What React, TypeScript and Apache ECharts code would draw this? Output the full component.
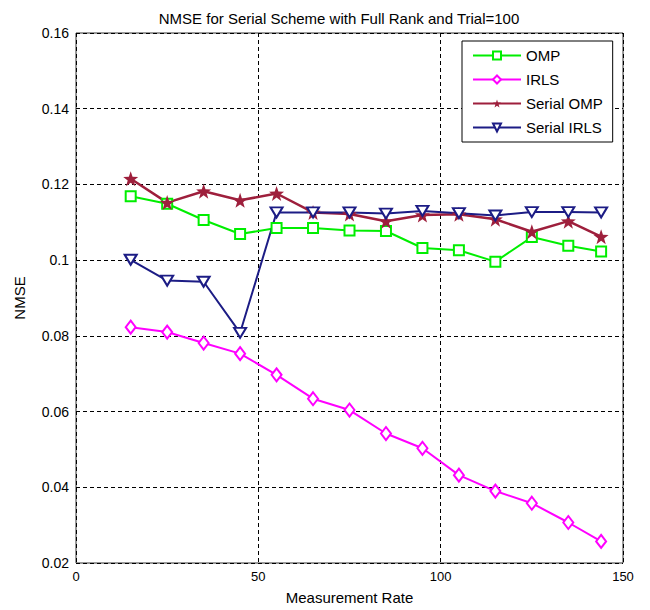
import React, { useEffect, useRef } from "react";
import * as echarts from "echarts";

const rates = [15, 25, 35, 45, 55, 65, 75, 85, 95, 105, 115, 125, 135, 144];
const ompValues = [0.1169, 0.1149, 0.1106, 0.1069, 0.1085, 0.1085, 0.1078, 0.1077, 0.1032, 0.1026, 0.0996, 0.1061, 0.1038, 0.1023];
const irlsValues = [0.0823, 0.081, 0.0781, 0.0753, 0.0697, 0.0634, 0.0604, 0.0542, 0.0503, 0.0432, 0.039, 0.0358, 0.0307, 0.0257];
const serialOmpValues = [0.1215, 0.1152, 0.1182, 0.1158, 0.1176, 0.1126, 0.1122, 0.1103, 0.1119, 0.1121, 0.1108, 0.1075, 0.1103, 0.1062];
const serialIrlsValues = [0.1001, 0.0946, 0.0943, 0.0808, 0.1126, 0.1126, 0.1126, 0.1123, 0.113, 0.1124, 0.1118, 0.1127, 0.1127, 0.1126];
const seriesNames = ["OMP", "IRLS", "Serial OMP", "Serial IRLS"];
const chartTitle = "NMSE for Serial Scheme with Full Rank and Trial=100";
const xName = "Measurement Rate";
const yName = "NMSE";

const FONT = "'Liberation Sans', Arial, sans-serif";
const STAR =
  "path://M0,-10L2.35,-3.24L9.51,-3.09L3.8,1.24L5.88,8.09L0,4L-5.88,8.09L-3.8,1.24L-9.51,-3.09L-2.35,-3.24Z";

function pairs(vals: number[]) {
  return rates.map((r, i) => [r, vals[i]]);
}

export default function App() {
  const ref = useRef<HTMLDivElement>(null);
  useEffect(() => {
    if (!ref.current) return;
    const chart = echarts.init(ref.current, null, { renderer: "svg" });
    const mk = (
      name: string,
      vals: number[],
      color: string,
      symbol: string,
      symbolSize: any,
      extra: any = {}
    ) => ({
      name,
      type: "line",
      data: pairs(vals),
      symbol,
      symbolSize,
      showAllSymbol: true,
      lineStyle: { color, width: 2 },
      itemStyle: { color, borderColor: color, borderWidth: 2 },
      emphasis: { disabled: true },
      ...extra,
    });
    chart.setOption({
      animation: false,
      backgroundColor: "#fff",
      title: {
        text: chartTitle,
        left: 334,
        textAlign: "center",
        top: 6,
        textStyle: { fontFamily: FONT, fontSize: 15, fontWeight: "normal", color: "#000" },
      },
      grid: {
        left: 76,
        right: 27,
        top: 33,
        bottom: 45,
        show: true,
        borderColor: "#333",
        borderWidth: 1,
        backgroundColor: "transparent",
      },
      legend: {
        orient: "vertical",
        left: 462,
        top: 41,
        padding: [7, 10, 7, 10],
        itemWidth: 48,
        itemHeight: 10,
        itemGap: 9,
        backgroundColor: "#fff",
        borderColor: "#000",
        borderWidth: 1,
        borderRadius: 0,
        data: seriesNames,
        textStyle: { fontFamily: FONT, fontSize: 15, color: "#000", lineHeight: 14 },
      },
      xAxis: {
        type: "value",
        min: 0,
        max: 150,
        interval: 50,
        name: xName,
        nameLocation: "middle",
        nameGap: 27,
        nameTextStyle: { fontFamily: FONT, fontSize: 15, color: "#000" },
        axisLine: { show: false },
        axisTick: { show: false },
        axisLabel: { fontFamily: FONT, fontSize: 13, color: "#000", margin: 7 },
        splitLine: { show: true, lineStyle: { color: "#000", type: [4, 3], width: 1 } },
      },
      yAxis: {
        type: "value",
        min: 0.02,
        max: 0.16,
        interval: 0.02,
        name: yName,
        nameLocation: "middle",
        nameGap: 49,
        nameTextStyle: { fontFamily: FONT, fontSize: 15, color: "#000" },
        axisLine: { show: false },
        axisTick: { show: false },
        axisLabel: { fontFamily: FONT, fontSize: 14, color: "#000", margin: 7 },
        splitLine: { show: true, lineStyle: { color: "#000", type: [4, 3], width: 1 } },
      },
      series: [
        mk(seriesNames[0], ompValues, "#00ee00", "emptyRect", 10),
        mk(seriesNames[1], irlsValues, "#ff00ff", "emptyDiamond", [10, 13]),
        mk(seriesNames[2], serialOmpValues, "#9e1f3c", STAR, 15, {
          lineStyle: { color: "#9e1f3c", width: 2.5 },
          itemStyle: { color: "#9e1f3c", borderWidth: 0 },
        }),
        mk(seriesNames[3], serialIrlsValues, "#1c1c85", "emptyTriangle", [12, 10], {
          symbolRotate: 180,
        }),
      ],
    });
    return () => chart.dispose();
  }, []);
  return (
    <div
      ref={ref}
      style={{ position: "absolute", left: 0, top: 0, width: 650, height: 610 }}
    />
  );
}
